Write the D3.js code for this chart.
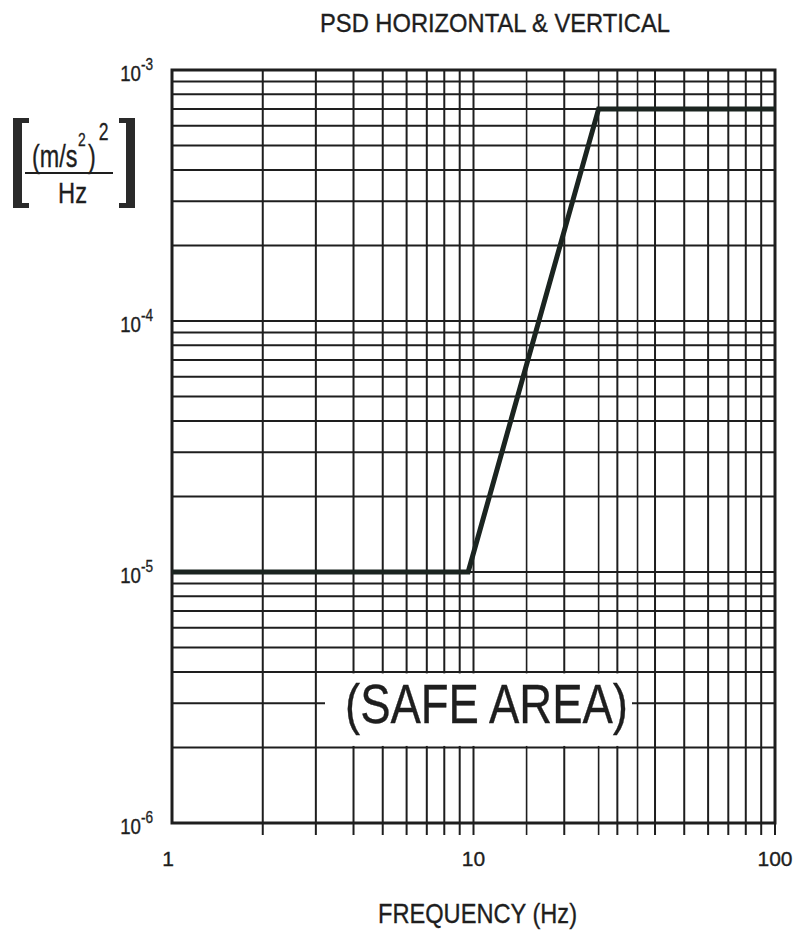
<!DOCTYPE html>
<html><head><meta charset="utf-8">
<script src="https://cdn.jsdelivr.net/npm/d3@7"></script>
<style>
body{margin:0;background:#fff}
text{font-family:"Liberation Sans",Arial,Helvetica,sans-serif;fill:#1e1e1e;stroke:#1e1e1e;stroke-width:0.35px}
</style>
</head><body><svg id="c" width="795" height="935"></svg>
<script>
// ---- data ----
const freqHz = [1, 9.6, 26, 100];
const psdValues = [1e-5, 1e-5, 7e-4, 7e-4];
const xTickLabels = [1, 10, 100];
const yDecadeExponents = [-3, -4, -5, -6];
const extraFreqGrid = [15, 26, 35];
const chartTitle = "PSD HORIZONTAL & VERTICAL";
const xAxisTitle = "FREQUENCY (Hz)";
const areaNote = "(SAFE AREA)";

// ---- layout ----
const svg = d3.select("#c");
const L = 172, R = 775, T = 70, B = 823;
const x = d3.scaleLog().domain([1, 100]).range([L, R]);
const y = d3.scaleLog().domain([1e-6, 1e-3]).range([B, T]);
const ink = "#1e1e1e";

const gridX = [];
[1, 10].forEach(d => { for (let m = 1; m < 10; m++) gridX.push(m * d); });
gridX.push(100);
extraFreqGrid.forEach(v => gridX.push(v));
const gridY = [];
[1e-6, 1e-5, 1e-4].forEach(d => { for (let m = 1; m < 10; m++) gridY.push(m * d); });
gridY.push(1e-3);

svg.append("rect").attr("width", 795).attr("height", 935).attr("fill", "#fff");

// horizontal grid
svg.append("g").selectAll("line").data(gridY).join("line")
  .attr("x1", L).attr("x2", R)
  .attr("y1", d => y(d)).attr("y2", d => y(d))
  .attr("stroke", ink).attr("stroke-width", 2);

// vertical grid (extends below as ticks)
svg.append("g").selectAll("line").data(gridX).join("line")
  .attr("x1", d => x(d)).attr("x2", d => x(d))
  .attr("y1", T).attr("y2", d => d === 1 ? B : B + 12)
  .attr("stroke", ink).attr("stroke-width", d => extraFreqGrid.includes(d) ? 1.6 : 2);

// frame
svg.append("rect").attr("x", L).attr("y", T).attr("width", R - L).attr("height", B - T)
  .attr("fill", "none").attr("stroke", ink).attr("stroke-width", 3);

// white box for note
svg.append("rect").attr("x", 325).attr("y", y(4e-6) + 1.5)
  .attr("width", 632 - 325).attr("height", y(2e-6) - y(4e-6) - 3)
  .attr("fill", "#fff");
svg.append("text").attr("x", 345).attr("y", 723)
  .attr("font-size", 55).attr("textLength", 283).attr("lengthAdjust", "spacingAndGlyphs")
  .text(areaNote);

// data line
const pts = freqHz.map((f, i) => ({ f, p: psdValues[i] }));
svg.append("path").datum(pts)
  .attr("d", d3.line().x(d => x(d.f)).y(d => y(d.p)))
  .attr("fill", "none").attr("stroke", "#1b2420").attr("stroke-width", 5)
  .attr("stroke-linejoin", "miter");

// title
svg.append("text").attr("x", 320).attr("y", 32).attr("font-size", 25)
  .attr("textLength", 350).attr("lengthAdjust", "spacingAndGlyphs").text(chartTitle);

// x tick labels
svg.append("g").selectAll("text").data(xTickLabels).join("text")
  .attr("x", d => x(d) + (d === 1 ? -4 : 0)).attr("y", 866)
  .attr("text-anchor", "middle").attr("font-size", 21).text(d => d);

// y tick labels
const yl = svg.append("g").selectAll("text").data(yDecadeExponents).join("text")
  .attr("transform", d => `translate(153,${y(Math.pow(10, d)) + 11}) scale(0.85,1)`)
  .attr("text-anchor", "end").attr("font-size", 22);
yl.append("tspan").text("10");
yl.append("tspan").attr("dy", -11).attr("font-size", 16).text(d => "-" + Math.abs(d));

// x axis title
svg.append("text").attr("x", 378).attr("y", 923).attr("font-size", 28)
  .attr("textLength", 199).attr("lengthAdjust", "spacingAndGlyphs").text(xAxisTitle);

// y unit label
const u = svg.append("g");
const num = u.append("text").attr("transform", "translate(32,167) scale(0.73,1)").attr("font-size", 32);
num.append("tspan").text("(m/s");
num.append("tspan").attr("dx", 1).attr("dy", -21).attr("font-size", 19).text("2");
num.append("tspan").attr("dx", 3).attr("dy", 21).text(")");
num.append("tspan").attr("dx", 4).attr("dy", -27).attr("font-size", 24).text("2");
u.append("line").attr("x1", 25).attr("x2", 113).attr("y1", 173).attr("y2", 173)
  .attr("stroke", ink).attr("stroke-width", 2);
u.append("text").attr("x", 58).attr("y", 203).attr("font-size", 30)
  .attr("textLength", 29).attr("lengthAdjust", "spacingAndGlyphs").text("Hz");
// brackets
u.append("path").attr("d", "M29,120.5 H17.5 V205.5 H29").attr("fill", "none")
  .attr("stroke", "#2a2a2a").attr("stroke-width", 5);
u.append("rect").attr("x", 13).attr("y", 118).attr("width", 9).attr("height", 90).attr("fill", "#2a2a2a");
u.append("path").attr("d", "M119,120.5 H130.5 V205.5 H119").attr("fill", "none")
  .attr("stroke", "#2a2a2a").attr("stroke-width", 5);
u.append("rect").attr("x", 126).attr("y", 118).attr("width", 9).attr("height", 90).attr("fill", "#2a2a2a");
</script>
</body></html>
